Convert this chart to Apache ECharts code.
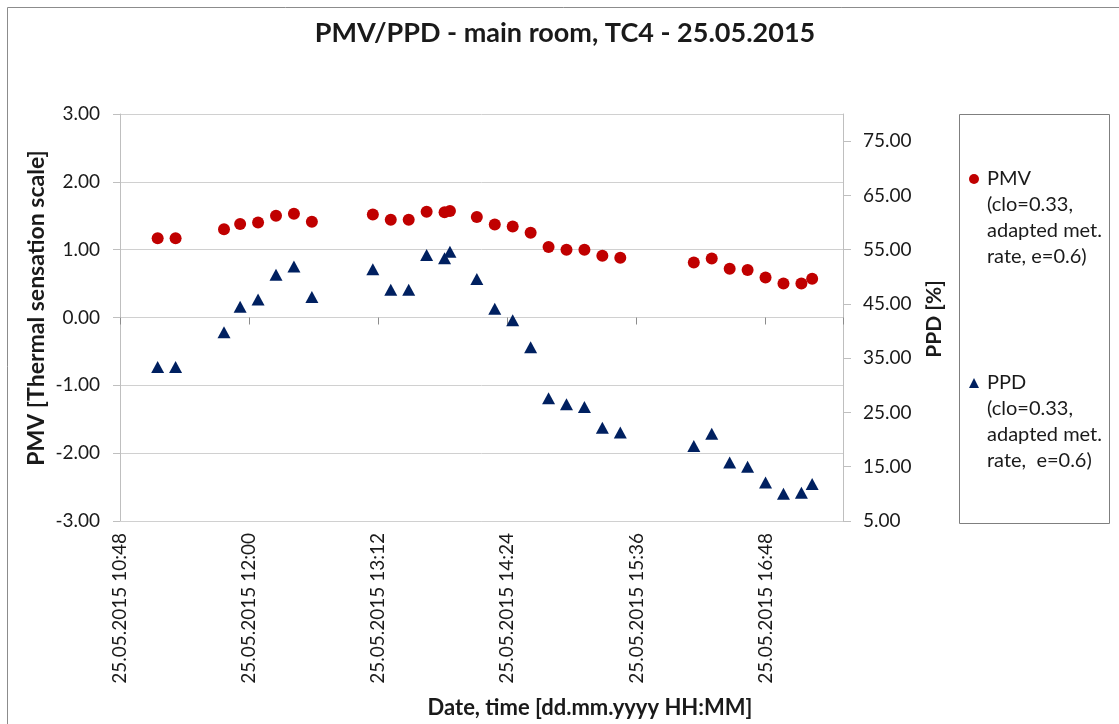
<!DOCTYPE html>
<html>
<head>
<meta charset="utf-8">
<script src="https://cdn.jsdelivr.net/npm/echarts@6/dist/echarts.min.js"></script>
<style>
  html, body { margin: 0; padding: 0; background: #fff; }
  #chart { width: 1119px; height: 724px; }
</style>
</head>
<body>
<div id="chart"></div>
<script>
// measurement times (25.05.2015)
const times = ['11:09', '11:19', '11:46', '11:55', '12:05', '12:15', '12:25', '12:35',
  '13:09', '13:19', '13:29', '13:39', '13:49', '13:52', '14:07', '14:17', '14:27', '14:37',
  '14:47', '14:57', '15:07', '15:17', '15:27', '16:08', '16:18', '16:28', '16:38', '16:48',
  '16:58', '17:08', '17:14'];
const pmv = [1.17, 1.17, 1.30, 1.38, 1.40, 1.50, 1.53, 1.41, 1.52, 1.44, 1.44, 1.56, 1.55, 1.57,
  1.48, 1.37, 1.34, 1.25, 1.04, 1.00, 1.00, 0.91, 0.88, 0.81, 0.87, 0.72, 0.70, 0.59, 0.50,
  0.50, 0.57];
const ppd = [33.4, 33.4, 39.8, 44.5, 45.8, 50.4, 51.9, 46.3, 51.4, 47.6, 47.6, 54.0, 53.4, 54.6,
  49.6, 44.1, 42.0, 37.0, 27.6, 26.5, 26.0, 22.2, 21.3, 18.8, 21.1, 15.8, 15.0, 12.1, 10.0,
  10.2, 11.8];
const ppdTicks = [5, 15, 25, 35, 45, 55, 65, 75];
const xStart = '10:48';
const xEnd = '17:31:12';

const FONT = 'Lato';
const TXT = '#1a1a1a';
const GRID = '#d0d0d0';

function toMin(t) {
  const p = t.split(':').map(Number);
  return p[0] * 60 + p[1] + (p[2] || 0) / 60;
}
function fmtTime(v) {
  const h = Math.floor(v / 60), m = Math.round(v % 60);
  return '25.05.2015 ' + String(h).padStart(2, '0') + ':' + String(m).padStart(2, '0');
}

const chart = echarts.init(document.getElementById('chart'));

const xBase = {
  type: 'value',
  min: toMin(xStart),
  max: toMin(xEnd),
  interval: 72,
  splitLine: { show: false }
};

const option = {
  animation: false,
  textStyle: { fontFamily: FONT },
  grid: { left: 120, top: 114, width: 723, height: 407 },
  graphic: [
    { type: 'rect', z: -10, shape: { x: 7.5, y: 7.5, width: 1300, height: 900 },
      style: { fill: 'none', stroke: '#8c8c8c', lineWidth: 1 } },
    { type: 'rect', z: -5, shape: { x: 959.5, y: 114.5, width: 150, height: 409 },
      style: { fill: '#fff', stroke: '#7f7f7f', lineWidth: 1 } },
    { type: 'text', x: 565, y: 33, style: { text: 'PMV/PPD - main room, TC4 - 25.05.2015',
      font: 'bold 27px ' + FONT, fill: TXT, textAlign: 'center', textVerticalAlign: 'middle' } },
    { type: 'text', x: 37, y: 308, rotation: Math.PI / 2, style: { text: 'PMV [Thermal sensation scale]',
      font: 'bold 23px ' + FONT, fill: TXT, textAlign: 'center', textVerticalAlign: 'middle' } },
    { type: 'text', x: 934, y: 319, rotation: Math.PI / 2, style: { text: 'PPD [%]',
      font: 'bold 21px ' + FONT, fill: TXT, textAlign: 'center', textVerticalAlign: 'middle' } },
    { type: 'text', x: 590, y: 708, style: { text: 'Date, time [dd.mm.yyyy HH:MM]',
      font: 'bold 22px ' + FONT, fill: TXT, textAlign: 'center', textVerticalAlign: 'middle' } }
  ],
  legend: {
    orient: 'vertical',
    left: 969,
    top: 88,
    padding: 0,
    itemGap: 22,
    itemWidth: 10,
    itemHeight: 10,
    formatter: function (name) { return '\n\n\n' + name; },
    textStyle: { fontFamily: FONT, fontSize: 20, color: TXT, lineHeight: 26, padding: [0, 0, 0, 3] },
    data: [
      { name: 'PMV\n(clo=0.33,\nadapted met.\nrate, e=0.6)', icon: 'circle' },
      { name: 'PPD\n(clo=0.33,\nadapted met.\nrate,  e=0.6)', icon: 'triangle' }
    ]
  },
  xAxis: [
    Object.assign({}, xBase, {
      position: 'bottom',
      axisLine: { onZero: false, lineStyle: { color: GRID } },
      axisTick: { show: false },
      axisLabel: {
        rotate: 90, margin: 12, fontSize: 19, color: TXT, fontFamily: FONT,
        showMaxLabel: false, formatter: fmtTime
      }
    }),
    Object.assign({}, xBase, {
      position: 'top',
      axisLine: { show: true, onZero: true, onZeroAxisIndex: 0, lineStyle: { color: GRID } },
      axisTick: { show: true, inside: true, length: 7, lineStyle: { color: '#8c8c8c' } },
      axisLabel: { show: false }
    })
  ],
  yAxis: [
    {
      type: 'value', min: -3, max: 3, interval: 1, position: 'left',
      axisLine: { show: true, lineStyle: { color: '#bfbfbf' } },
      axisTick: { show: true, length: 7, lineStyle: { color: '#bfbfbf' } },
      axisLabel: { margin: 20, fontSize: 19, color: TXT, fontFamily: FONT,
        formatter: v => v.toFixed(2) },
      splitLine: { show: true, lineStyle: { color: GRID } }
    },
    {
      type: 'value', min: 5, max: 80, position: 'right',
      axisLine: { show: true, lineStyle: { color: '#bfbfbf' } },
      axisTick: { show: true, length: 8, lineStyle: { color: '#bfbfbf' }, customValues: ppdTicks },
      axisLabel: { margin: 20, fontSize: 19, color: TXT, fontFamily: FONT,
        customValues: ppdTicks, formatter: v => v.toFixed(2) },
      splitLine: { show: false }
    }
  ],
  series: [
    {
      name: 'PMV\n(clo=0.33,\nadapted met.\nrate, e=0.6)',
      type: 'scatter',
      xAxisIndex: 0, yAxisIndex: 0,
      symbol: 'circle', symbolSize: 12,
      itemStyle: { color: '#c00000', opacity: 1 },
      data: times.map((t, i) => [toMin(t), pmv[i]])
    },
    {
      name: 'PPD\n(clo=0.33,\nadapted met.\nrate,  e=0.6)',
      type: 'scatter',
      xAxisIndex: 0, yAxisIndex: 1,
      symbol: 'triangle', symbolSize: [13, 12],
      itemStyle: { color: '#002060', opacity: 1 },
      data: times.map((t, i) => [toMin(t), ppd[i]])
    }
  ]
};

chart.setOption(option);
</script>
</body>
</html>
